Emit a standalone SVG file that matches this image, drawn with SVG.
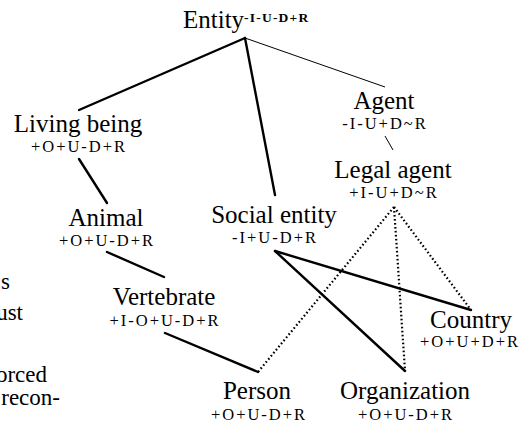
<svg xmlns="http://www.w3.org/2000/svg" width="520" height="426" viewBox="0 0 520 426" font-family="'Liberation Serif', 'DejaVu Serif', serif">
<style>
text{font-family:"Liberation Serif","DejaVu Serif",serif;fill:#000}
.n{font-size:25px;text-anchor:middle}
.s{font-size:16.5px;letter-spacing:2px;text-anchor:middle}
.sup{font-size:13.5px;font-weight:bold;letter-spacing:1.2px}
.side{font-size:23px;text-anchor:end}
.thick{stroke:#000;stroke-width:2.4;fill:none;stroke-linecap:round}
.thin{stroke:#000;stroke-width:1;fill:none}
.dot{stroke:#000;stroke-width:2.2;fill:none;stroke-dasharray:1.6 2.4}
</style>
<rect width="520" height="426" fill="#fff"/>
<g id="connectors">
<line class="thick" x1="245" y1="38" x2="79" y2="110"/>
<line class="thick" x1="245" y1="38" x2="275" y2="195"/>
<line class="thin" x1="245" y1="38" x2="385" y2="87"/>
<line class="thin" x1="385" y1="136" x2="393" y2="150"/>
<line class="thick" x1="79" y1="159" x2="107" y2="203"/>
<line class="thick" x1="107" y1="252" x2="164" y2="277"/>
<line class="thick" x1="165" y1="333" x2="258" y2="372"/>
<line class="thick" x1="275" y1="251" x2="471" y2="310"/>
<line class="thick" x1="275" y1="251" x2="405" y2="371"/>
<line class="dot" x1="394" y1="207" x2="258" y2="372"/>
<line class="dot" x1="394" y1="207" x2="405" y2="371"/>
<line class="dot" x1="394" y1="207" x2="471" y2="310"/>
</g>
<g id="entity"><text class="n" x="183" y="28" style="text-anchor:start">Entity<tspan class="sup" dy="-6">-I-U-D+R</tspan></text></g>
<g id="living-being"><text class="n" x="78" y="132">Living being</text><text class="s" x="79" y="152">+O+U-D+R</text></g>
<g id="animal"><text class="n" x="106" y="226">Animal</text><text class="s" x="107" y="246">+O+U-D+R</text></g>
<g id="vertebrate"><text class="n" x="164" y="305">Vertebrate</text><text class="s" x="165" y="326">+I-O+U-D+R</text></g>
<g id="social-entity"><text class="n" x="274" y="223">Social entity</text><text class="s" x="275" y="243">-I+U-D+R</text></g>
<g id="agent"><text class="n" x="384" y="109">Agent</text><text class="s" x="385" y="129">-I-U+D~R</text></g>
<g id="legal-agent"><text class="n" x="393" y="178">Legal agent</text><text class="s" x="394" y="198">+I-U+D~R</text></g>
<g id="country"><text class="n" x="471" y="328">Country</text><text class="s" x="470" y="347">+O+U+D+R</text></g>
<g id="person"><text class="n" x="257" y="399">Person</text><text class="s" x="259" y="420">+O+U-D+R</text></g>
<g id="organization"><text class="n" x="405" y="399">Organization</text><text class="s" x="406" y="420">+O+U-D+R</text></g>
<g id="side-text">
<text class="side" x="10" y="289">s</text>
<text class="side" x="23" y="320">ust</text>
<text class="side" x="47" y="382">orced</text>
<text class="side" x="60" y="405">recon-</text>
</g>
</svg>
